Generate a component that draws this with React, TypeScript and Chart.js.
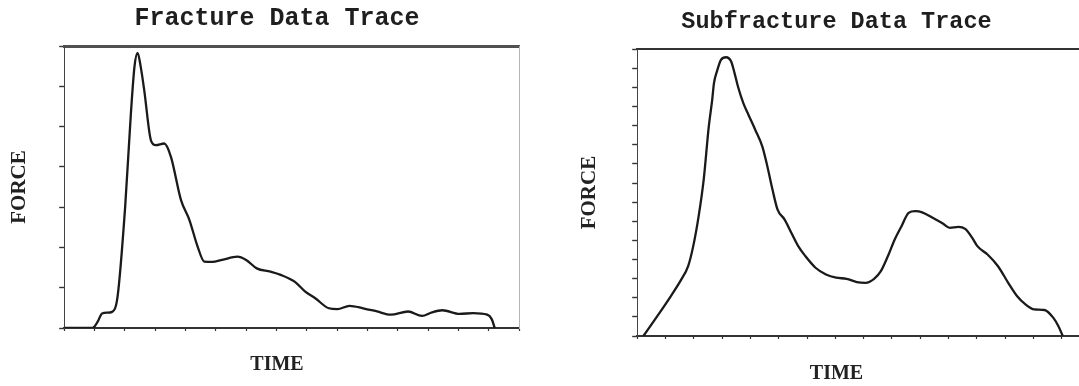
import React, { useEffect, useRef } from "react";
import { Chart, registerables } from "chart.js";

Chart.register(...registerables);

// ---- Fracture trace (left) ----
const fractureTitle = "Fracture Data Trace";
const fractureTime = [0, 0.9, 0.99, 1.1, 1.25, 1.42, 1.58, 1.76, 2.01, 2.2, 2.32, 2.42, 2.52, 2.64, 2.86, 3.02, 3.3, 3.52, 3.85, 4.13, 4.4, 4.62, 4.88, 5.21, 5.71, 6.0, 6.35, 6.8, 7.14, 7.6, 7.94, 8.28, 8.73, 9.01, 9.41, 9.86, 10.32, 10.77, 11.34, 11.8, 12.13, 12.47, 13.04, 13.49, 13.95, 14.1, 14.2];
const fractureForce = [0, 0, 0.03, 0.15, 0.36, 0.38, 0.4, 0.78, 3.0, 5.33, 6.5, 6.83, 6.5, 5.9, 4.66, 4.54, 4.58, 4.25, 3.18, 2.68, 2.02, 1.65, 1.64, 1.69, 1.77, 1.69, 1.48, 1.4, 1.32, 1.15, 0.91, 0.74, 0.49, 0.47, 0.55, 0.49, 0.41, 0.33, 0.41, 0.3, 0.39, 0.44, 0.35, 0.37, 0.33, 0.22, 0];
const fractureXMax = 15;
const fractureYMax = 7;

// ---- Subfracture trace (right) ----
const subTitle = "Subfracture Data Trace";
const subTime = [0.22, 0.71, 1.19, 1.56, 1.8, 1.98, 2.17, 2.35, 2.53, 2.65, 2.71, 2.83, 2.96, 3.14, 3.32, 3.44, 3.56, 3.75, 3.93, 4.17, 4.42, 4.6, 4.78, 4.96, 5.21, 5.45, 5.69, 5.94, 6.3, 6.67, 7.03, 7.4, 7.76, 8.07, 8.37, 8.61, 8.86, 9.1, 9.34, 9.59, 9.83, 10.07, 10.44, 10.8, 11.05, 11.35, 11.59, 11.84, 12.02, 12.38, 12.75, 13.11, 13.42, 13.72, 14.03, 14.39, 14.7, 14.88, 15.04];
const subForce = [0, 1.04, 2.09, 2.96, 3.65, 4.7, 6.26, 8.18, 10.96, 12.35, 13.2, 13.9, 14.44, 14.58, 14.36, 13.75, 13.05, 12.18, 11.57, 10.79, 9.92, 8.87, 7.66, 6.61, 6.09, 5.39, 4.7, 4.18, 3.57, 3.22, 3.05, 2.99, 2.82, 2.78, 2.99, 3.39, 4.18, 5.05, 5.74, 6.44, 6.53, 6.47, 6.18, 5.88, 5.66, 5.71, 5.6, 5.13, 4.7, 4.26, 3.65, 2.78, 2.09, 1.65, 1.39, 1.36, 0.96, 0.52, 0];
const subXMax = 16;
const subYMax = 15;

const xLabel = "TIME";
const yLabel = "FORCE";

type Params = {
  title: string;
  titleSize: number;
  xs: number[];
  ys: number[];
  xMax: number;
  yMax: number;
  rightSpace: number;
  rightBorderColor: string;
  titleTop: number;
  titleBottom: number;
  subTop: number;
  subBottom: number;
  yTitleTop: number;
  yTitleBottom: number;
  topBorderWidth: number;
  topBorderColor: string;
};

function makeConfig(p: Params): any {
  const points = p.xs.map((x, i) => ({ x, y: p.ys[i] }));
  return {
    type: "line",
    data: {
      datasets: [
        {
          data: points,
          borderColor: "#1a1a1a",
          borderWidth: 2.3,
          pointRadius: 0,
          cubicInterpolationMode: "monotone",
          fill: false,
        },
      ],
    },
    options: {
      responsive: false,
      animation: false,
      events: [],
      layout: { padding: 0 },
      plugins: {
        legend: { display: false },
        tooltip: { enabled: false },
        title: {
          display: true,
          text: p.title,
          color: "#1e1e1e",
          font: { family: "'Liberation Mono', monospace", size: p.titleSize, weight: "bold", lineHeight: 1.2 },
          padding: { top: p.titleTop, bottom: p.titleBottom },
        },
        subtitle: {
          display: true,
          position: "bottom",
          text: xLabel,
          color: "#222",
          font: { family: "'Liberation Serif', serif", size: 20, weight: "bold", lineHeight: 1.2 },
          padding: { top: p.subTop, bottom: p.subBottom },
        },
      },
      scales: {
        x: {
          type: "linear",
          position: "bottom",
          min: 0,
          max: p.xMax,
          ticks: { display: false, stepSize: 1 },
          grid: { display: true, drawOnChartArea: false, drawTicks: true, tickLength: 3, color: "#333", tickColor: "#333", tickWidth: 1.2 },
          border: { display: true, color: "#333", width: 2 },
        },
        x2: {
          type: "linear",
          position: "top",
          min: 0,
          max: p.xMax,
          ticks: { display: false },
          grid: { display: false, drawTicks: false },
          border: { display: true, color: p.topBorderColor, width: p.topBorderWidth },
        },
        y: {
          type: "linear",
          position: "left",
          min: 0,
          max: p.yMax,
          ticks: { display: false, stepSize: 1 },
          grid: { display: true, drawOnChartArea: false, drawTicks: true, tickLength: 5, color: "#333", tickColor: "#333", tickWidth: 1.4 },
          border: { display: true, color: "#444", width: 1, dash: [4, 2] },
          title: {
            display: true,
            text: yLabel,
            color: "#222",
            font: { family: "'Liberation Serif', serif", size: 21, weight: "bold", lineHeight: 1.2 },
            padding: { top: p.yTitleTop, bottom: p.yTitleBottom },
          },
        },
        y2: {
          type: "linear",
          position: "right",
          min: 0,
          max: p.yMax,
          ticks: { display: false, stepSize: p.yMax },
          grid: { display: true, drawOnChartArea: false, drawTicks: true, tickLength: p.rightSpace, color: "rgba(0,0,0,0)", tickColor: "rgba(0,0,0,0)" },
          border: { display: true, color: p.rightBorderColor, width: 1, dash: [3, 3] },
        },
      },
    },
  };
}

function TraceChart(props: { params: Params; left: number; width: number }) {
  const ref = useRef<HTMLCanvasElement | null>(null);
  useEffect(() => {
    if (!ref.current) return;
    const chart = new Chart(ref.current, makeConfig(props.params));
    return () => chart.destroy();
  }, []);
  return (
    <div style={{ position: "absolute", left: props.left, top: 0, width: props.width, height: 386 }}>
      <canvas ref={ref} width={props.width} height={386} style={{ display: "block" }} />
    </div>
  );
}

export default function App() {
  const leftParams: Params = {
    title: fractureTitle,
    titleSize: 25,
    xs: fractureTime,
    ys: fractureForce,
    xMax: fractureXMax,
    yMax: fractureYMax,
    rightSpace: 35,
    rightBorderColor: "#b5b5b5",
    titleTop: 4,
    titleBottom: 12,
    subTop: 22,
    subBottom: 9,
    yTitleTop: 7,
    yTitleBottom: 27,
    topBorderWidth: 3,
    topBorderColor: "#505050",
  };
  const rightParams: Params = {
    title: subTitle,
    titleSize: 23.5,
    xs: subTime,
    ys: subForce,
    xMax: subXMax,
    yMax: subYMax,
    rightSpace: 23,
    rightBorderColor: "#888",
    titleTop: 8,
    titleBottom: 13,
    subTop: 23,
    subBottom: 0,
    yTitleTop: 17,
    yTitleBottom: 30,
    topBorderWidth: 2,
    topBorderColor: "#333",
  };
  return (
    <div style={{ position: "fixed", left: 0, top: 0, width: 1079, height: 386, overflow: "hidden", background: "#fff" }}>
      <TraceChart params={leftParams} left={0} width={554} />
      <TraceChart params={rightParams} left={560} width={553} />
    </div>
  );
}
